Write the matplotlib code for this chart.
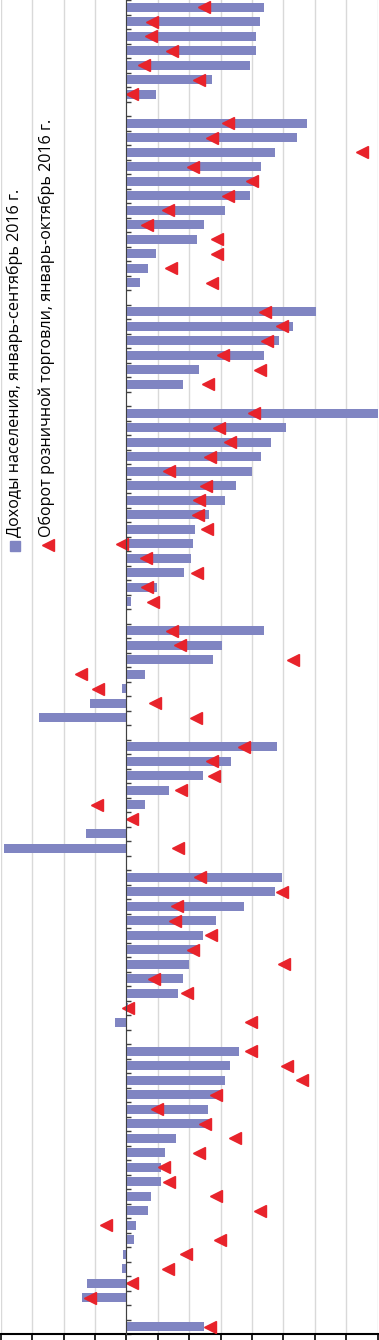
import numpy as np
import matplotlib.pyplot as plt
from matplotlib.lines import Line2D

# доходы населения (столбцы) и оборот розничной торговли (треугольники), по группам сверху вниз
inc_1 = [4.39, 4.25, 4.13, 4.13, 3.94, 2.74, 0.95]
ret_1 = [2.47, 0.83, 0.78, 1.47, 0.56, 2.33, 0.17]

inc_2 = [5.74, 5.44, 4.75, 4.29, 4.15, 3.94, 3.15, 2.48, 2.24, 0.95, 0.69, 0.44]
ret_2 = [3.23, 2.73, 7.52, 2.11, 4.01, 3.23, 1.34, 0.67, 2.90, 2.90, 1.41, 2.73]

inc_3 = [6.04, 5.30, 4.85, 4.39, 2.31, 1.80]
ret_3 = [4.42, 4.95, 4.47, 3.07, 4.26, 2.61]

inc_4 = [8.05, 5.09, 4.60, 4.30, 3.99, 3.49, 3.15, 2.64, 2.19, 2.13, 2.05, 1.84, 0.98, 0.15]
ret_4 = [4.07, 2.94, 3.30, 2.67, 1.37, 2.53, 2.32, 2.27, 2.56, -0.14, 0.62, 2.26, 0.66, 0.86]

inc_5 = [4.39, 3.04, 2.75, 0.60, -0.14, -1.15, -2.78]
ret_5 = [1.46, 1.72, 5.30, -1.45, -0.90, 0.90, 2.21]

inc_6 = [4.79, 3.33, 2.45, 1.35, 0.60, 0.0, -1.29, -3.89]
ret_6 = [3.76, 2.73, 2.80, 1.75, -0.94, 0.17, np.nan, 1.66]

inc_7 = [4.95, 4.75, 3.75, 2.85, 2.45, 2.26, 2.00, 1.80, 1.66, 0.05, -0.36]
ret_7 = [2.35, 4.97, 1.60, 1.55, 2.71, 2.11, 5.01, 0.87, 1.94, 0.04, 3.96]

inc_8 = [3.60, 3.30, 3.15, 3.01, 2.59, 2.67, 1.59, 1.23, 1.10, 1.10, 0.79, 0.69,
         0.30, 0.25, -0.11, -0.14, -1.24, -1.40]
ret_8 = [3.96, 5.11, 5.61, 2.86, 0.97, 2.51, 3.45, 2.31, 1.20, 1.35, 2.85, 4.27,
         -0.65, 2.99, 1.90, 1.32, 0.17, -1.16]

inc_9 = [2.48]
ret_9 = [2.66]

income_groups = [inc_1, inc_2, inc_3, inc_4, inc_5, inc_6, inc_7, inc_8, inc_9]
retail_groups = [ret_1, ret_2, ret_3, ret_4, ret_5, ret_6, ret_7, ret_8, ret_9]

label_inc = "Доходы населения, январь-сентябрь 2016 г."
label_ret = "Оборот розничной торговли, январь-октябрь 2016 г."

# позиции: пустая строка между группами
pos, income, retail = [], [], []
row = 0
for g_inc, g_ret in zip(income_groups, retail_groups):
    for a, b in zip(g_inc, g_ret):
        pos.append(row)
        income.append(a)
        retail.append(b)
        row += 1
    row += 1
pos = np.array(pos)
last = pos[-1]

W, H = 379, 1340
fig = plt.figure(figsize=(W / 100, H / 100), dpi=100)
ax = fig.add_axes([0.7 / W, 6 / H, (377.5 - 0.7) / W, 1334 / H])

bar_col = "#8085C2"
tri_col = "#E8232B"

ax.barh(pos, income, height=0.62, color=bar_col, zorder=2)
ax.plot(retail, pos, ls="none", marker="<", ms=8, color=tri_col, zorder=3)

ax.set_xticks(np.arange(-4, 9, 1))
ax.grid(axis="x", color="#D9D9D9", lw=1, zorder=0)
ax.tick_params(axis="x", direction="out", length=4.5, width=1.2, color="black",
               labelbottom=False)

ax.spines["top"].set_visible(False)
ax.spines["right"].set_visible(False)
ax.spines["bottom"].set_color("black")
ax.spines["bottom"].set_linewidth(1.5)
ax.spines["left"].set_position(("data", 0))
ax.spines["left"].set_color("#404040")
ax.spines["left"].set_zorder(4)
ax.set_yticks(np.arange(-0.5, last + 1, 1))
ax.tick_params(axis="y", direction="in", length=3.5, width=1, color="#404040",
               labelleft=False)

ax.set_xlim(-4, 8)
ax.set_ylim(last + 0.5, -0.5)

# легенда (повернута)
fnt = ["Open Sans", "DejaVu Sans"]
fig.text(15 / W, (H - 537) / H, label_inc, rotation=90, ha="center", va="bottom",
         fontsize=11.6, family=fnt)
fig.text(47 / W, (H - 537) / H, label_ret, rotation=90, ha="center", va="bottom",
         fontsize=11.6, family=fnt)
fig.add_artist(Line2D([14.7 / W], [(H - 545.7) / H], transform=fig.transFigure,
                      marker="s", ms=6.5, color=bar_col, ls="none"))
fig.add_artist(Line2D([47.7 / W], [(H - 545) / H], transform=fig.transFigure,
                      marker="<", ms=8, color=tri_col, ls="none"))

fig.savefig("out.png", dpi=100)
